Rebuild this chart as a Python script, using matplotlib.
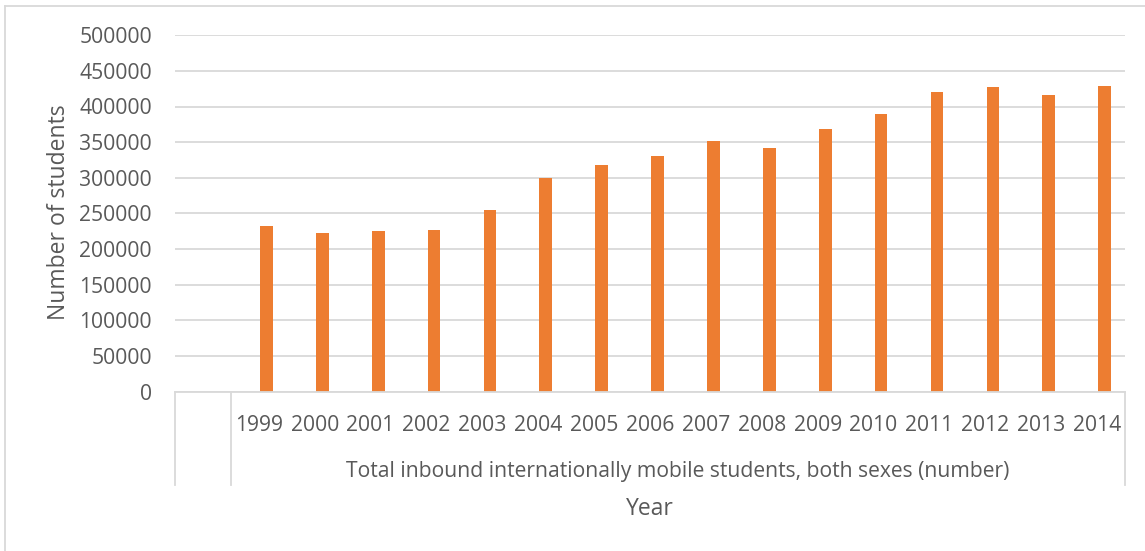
import matplotlib
matplotlib.use("Agg")
import matplotlib.pyplot as plt
from matplotlib.lines import Line2D
import matplotlib.transforms as mtrans

categories = ["", "1999", "2000", "2001", "2002", "2003", "2004", "2005", "2006",
              "2007", "2008", "2009", "2010", "2011", "2012", "2013", "2014"]
values = [None, 232000, 222500, 225500, 227000, 255000, 300000, 318000, 330000,
          351500, 342000, 369000, 389500, 420000, 427500, 416500, 428500]
yticks = [0, 50000, 100000, 150000, 200000, 250000, 300000, 350000, 400000, 450000, 500000]
group_label = "Total inbound internationally mobile students, both sexes (number)"
x_title = "Year"
y_title = "Number of students"

W, H = 1145, 551
DPI = 100
plt.rcParams['font.family'] = ['Open Sans', 'DejaVu Sans']
TXT = '#595959'
GRID = '#D9D9D9'
BAR = '#ED7D31'

fig = plt.figure(figsize=(W / DPI, H / DPI), dpi=DPI)
fig.patch.set_facecolor('white')

def fx(px):
    return px / W

def fy(py):
    return 1 - py / H

ax_l, ax_r, ax_b, ax_t = 175, 1125, 391.7, 35.2
ax = fig.add_axes([fx(ax_l), fy(ax_b), fx(ax_r) - fx(ax_l), fy(ax_t) - fy(ax_b)])
ax.set_xlim(-0.5, len(categories) - 0.5)
ax.set_ylim(0, 500000)

xs = [i + 0.136 for i, v in enumerate(values) if v is not None]
hs = [v for v in values if v is not None]
ax.bar(xs, hs, width=0.227, color=BAR, zorder=3)

ax.set_yticks(yticks)
ax.set_yticklabels([str(t) for t in yticks])
ax.tick_params(axis='y', length=0, pad=16.6, labelsize=15.2, labelcolor=TXT)
for lab in ax.get_yticklabels():
    lab.set_verticalalignment('center_baseline')
ax.set_xticks([])
ax.yaxis.grid(True, color=GRID, linewidth=1.3, zorder=0)
for s in ['left', 'right', 'top']:
    ax.spines[s].set_visible(False)
ax.spines['bottom'].set_color(GRID)
ax.spines['bottom'].set_linewidth(1.3)
ax.spines['bottom'].set_zorder(4)

blend = mtrans.blended_transform_factory(ax.transData, fig.transFigure)

# category labels (years)
for i, c in enumerate(categories):
    if c:
        fig.text(i, fy(430.7), c, transform=blend, ha='center', va='baseline',
                 fontsize=15.2, color=TXT)

# dividers of multi-level category axis
div_bottom = fy(485)
for xb in [-0.5, 0.5, len(categories) - 0.5]:
    fig.add_artist(Line2D([xb, xb], [fy(ax_b), div_bottom], color=GRID, linewidth=1.3,
                          transform=blend, clip_on=False))

# group label centered over categories 1..16
gx = (0.5 + len(categories) - 0.5) / 2
fig.text(gx, fy(477.3), group_label, ha='center', va='baseline', fontsize=15.2,
         color=TXT, transform=blend)

# axis titles
fig.text(fx(650), fy(515), x_title, ha='center', va='baseline', fontsize=16.5, color=TXT)
fig.text(fx(65), fy(212.5), y_title, ha='center', va='baseline', rotation=90,
         rotation_mode='anchor', fontsize=16.5, color=TXT)

# chart area border
fig.add_artist(Line2D([fx(5), fx(5)], [fy(6), 0], color=GRID, linewidth=1.3))
fig.add_artist(Line2D([fx(5), 1], [fy(6), fy(6)], color=GRID, linewidth=1.3))

fig.savefig('out.png', dpi=DPI, facecolor='white')
